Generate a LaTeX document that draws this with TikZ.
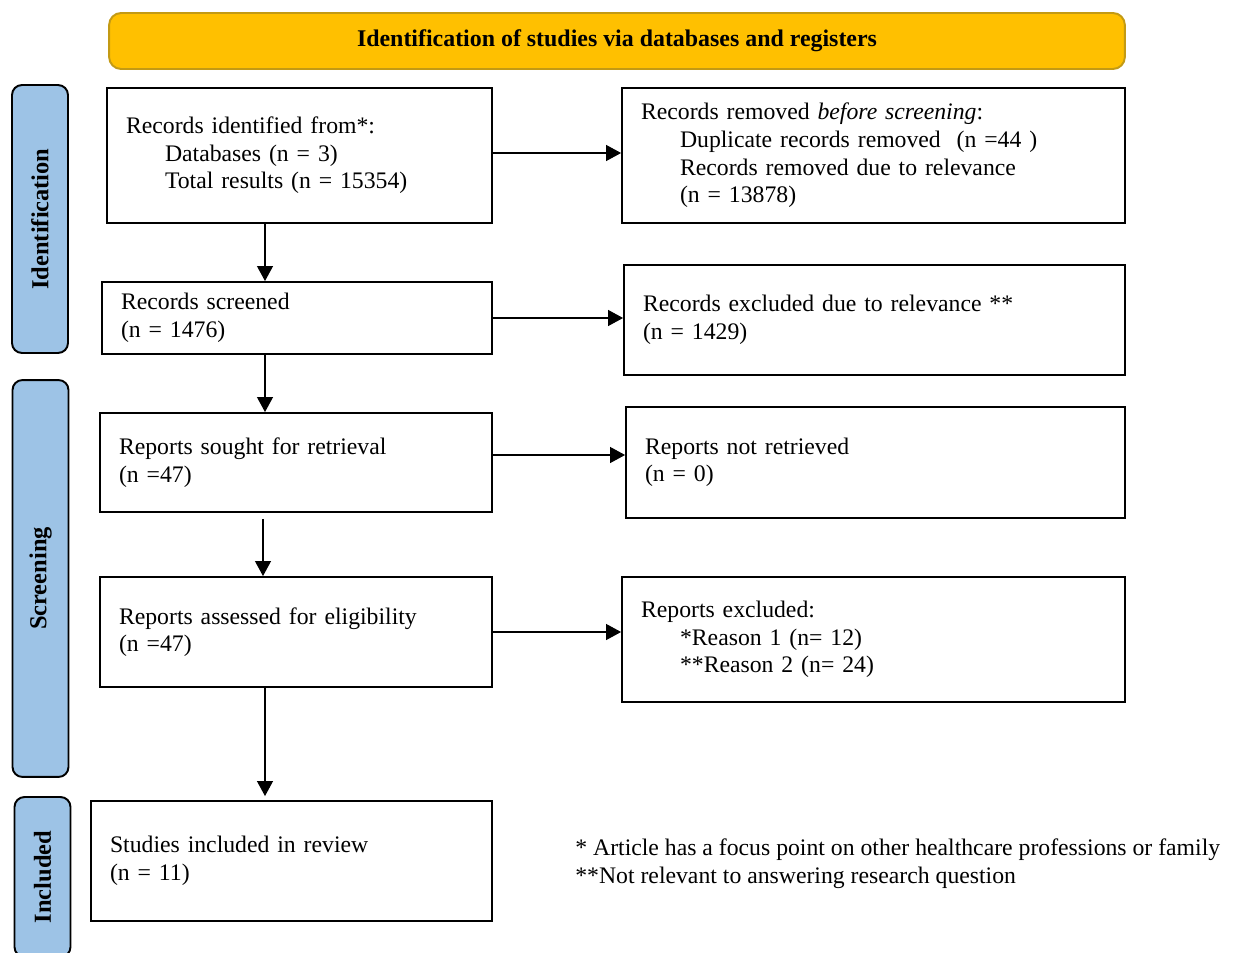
\documentclass[tikz,border=0pt]{standalone}
\usepackage{fontspec}
\setmainfont{Liberation Serif}
\usepackage{xcolor}
\usetikzlibrary{arrows.meta}
\definecolor{headC}{HTML}{FFC000}
\definecolor{headD}{HTML}{C39A14}
\definecolor{phaseC}{HTML}{9DC3E6}
\newcommand{\boxfont}{\fontsize{13.5}{15.7}\selectfont}
\newcommand{\ind}{\hspace*{0.78cm}}

\begin{document}
\begin{tikzpicture}[
    x=0.02cm, y=-0.02cm,
    box/.style={draw=black, line width=1.1pt, align=left, inner xsep=0.38cm,
                inner ysep=0pt, font=\boxfont},
    phase/.style={draw=black, line width=1.1pt, fill=phaseC, rounded corners=0.2cm,
                  rotate=90, minimum height=1.12cm, font=\fontsize{13.9}{15}\selectfont\bfseries},
    arrow/.style={-{Triangle[length=0.3cm, width=0.32cm]}, line width=0.6pt, draw=black}
]
\useasboundingbox (0,0) rectangle (1238,953);
\clip (0,0) rectangle (1238,953);

% header and phase bars
\node[draw=headD, line width=1.1pt, fill=headC, rounded corners=0.24cm,
      minimum width=20.32cm, minimum height=1.12cm,
      font=\fontsize{13.6}{15}\selectfont\bfseries] (head) at (617,41)
      {Identification of studies via databases and registers};
\node[phase, minimum width=5.36cm] (pident) at (40,219) {Identification};
\node[phase, minimum width=7.94cm] (pscreen) at (40.5,578.5) {Screening};
\node[phase, minimum width=3.2cm] (pincl) at (42.5,877) {Included};

% left column
\node[box, text width=6.94cm, minimum height=2.7cm] (identified) at (299.5,155.5)
    {Records identified from*:\\ \ind Databases (n = 3)\\ \ind Total results (n = 15354)};
\node[box, text width=7.04cm, minimum height=1.44cm] (screened) at (297,318)
    {Records screened\\(n = 1476)};
\node[box, text width=7.08cm, minimum height=1.98cm] (sought) at (296,462.5)
    {Reports sought for retrieval\\(n =47)};
\node[box, text width=7.08cm, minimum height=2.2cm] (assessed) at (296,632)
    {Reports assessed for eligibility\\(n =47)};
\node[box, text width=7.26cm, minimum height=2.4cm] (included) at (291.5,861)
    {Studies included in review\\(n = 11)};

% right column
\node[box, text width=9.3cm, minimum height=2.7cm] (removed) at (873.5,155.5)
    {Records removed \textit{before screening}:\\
     \ind Duplicate records removed~~(n =44 )\\
     \ind Records removed due to relevance\\
     \ind (n = 13878)};
\node[box, text width=9.26cm, minimum height=2.2cm] (excluded) at (874.5,320)
    {Records excluded due to relevance **\\(n = 1429)};
\node[box, text width=9.22cm, minimum height=2.22cm] (notretrieved) at (875.5,462.5)
    {Reports not retrieved\\(n = 0)};
\node[box, text width=9.3cm, minimum height=2.5cm] (repexcluded) at (873.5,639.5)
    {Reports excluded:\\ \ind *Reason 1 (n= 12)\\ \ind **Reason 2 (n= 24)};

% footnote
\node[align=left, anchor=west, inner sep=0pt, font=\boxfont] (notes) at (575,863.5)
    {* Article has a focus point on other healthcare professions or family\\
     **Not relevant to answering research question};

% connectors
\coordinate (spine) at (265,0);
\draw[arrow] (identified.south -| spine) -- (screened.north -| spine);
\draw[arrow] (screened.south -| spine) -- (sought.north -| spine);
\draw[arrow] ([yshift=-0.12cm, xshift=-0.04cm]sought.south -| spine) -- ([xshift=-0.04cm]assessed.north -| spine);
\draw[arrow] (assessed.south -| spine) -- ([yshift=0.08cm]included.north -| spine);
\draw[arrow] ([yshift=0.05cm]identified.east) -- ([yshift=0.05cm]identified.east -| removed.west);
\draw[arrow] (screened.east) -- (screened.east -| excluded.west);
\draw[arrow] ([yshift=0.15cm]sought.east) -- ([yshift=0.15cm]sought.east -| notretrieved.west);
\draw[arrow] (assessed.east) -- (assessed.east -| repexcluded.west);
\end{tikzpicture}
\end{document}
